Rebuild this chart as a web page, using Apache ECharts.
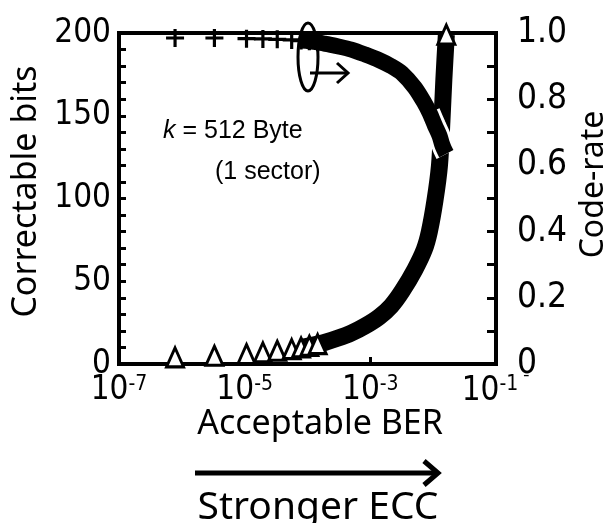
<!DOCTYPE html>
<html>
<head>
<meta charset="utf-8">
<script src="https://cdn.jsdelivr.net/npm/echarts@6/dist/echarts.min.js"></script>
<style>
  html, body { margin: 0; padding: 0; background: #fff; }
  #chart { width: 607px; height: 523px; }
</style>
</head>
<body>
<div id="chart"></div>
<script>
// acceptable BER (x, log axis)
const ber = [7.8e-7, 3.3e-6, 1.07e-5, 1.95e-5, 3.3e-5, 5.6e-5, 7.9e-5, 1.07e-4, 1.45e-4, 1.86e-4,
  3.0e-4, 5.0e-4, 8.3e-4, 1.38e-3, 2.14e-3, 3.2e-3, 5.1e-3, 7.2e-3, 8.7e-3, 1.07e-2,
  1.26e-2, 1.38e-2, 1.48e-2, 1.62e-2];
// triangles, left axis
const correctableBits = [4, 5, 6, 7, 8, 9, 10, 11, 12, 13,
  15.5, 18.7, 23, 28.4, 35, 44, 57, 69, 80, 99,
  120, 147, 172, 199];
// crosses, right axis
const codeRate = [0.985, 0.985, 0.983, 0.982, 0.981, 0.979, 0.977, 0.975, 0.972, 0.968,
  0.960, 0.950, 0.935, 0.918, 0.900, 0.878, 0.835, 0.790, 0.760, 0.720,
  0.690, 0.665, 0.650, 0.635];

const xTickValues = [1e-7, 1e-5, 1e-3, 1e-1];
const leftTickValues = [0, 50, 100, 150, 200];
const rightTickValues = [0, 0.2, 0.4, 0.6, 0.8, 1.0];

const FONT = '"DejaVu Sans Condensed", "Noto Sans", sans-serif';
const NAME_FONT = '"Noto Sans", sans-serif';
const ARIAL = '"Liberation Sans", Arial, sans-serif';
const SPARSE = 9; // single markers up to here
const BAND = 6;   // markers pile up into a thick band from here on

function pairs(ys, from, to) {
  return ber.slice(from, to).map((b, i) => [b, ys[from + i]]);
}
const last = ber.length - 1;
const cross = 'path://M7,0H10V7H17V10H10V17H7V10H0V7H7Z';

const chart = echarts.init(document.getElementById('chart'));
chart.setOption({
  animation: false,
  backgroundColor: '#fff',
  grid: {
    left: 119, right: 111, top: 33, bottom: 159,
    outerBoundsMode: 'none', containLabel: false,
    show: true, borderColor: '#000', borderWidth: 4
  },
  xAxis: {
    type: 'log', logBase: 10, min: 1e-7, max: 1e-1,
    name: 'Acceptable BER', nameLocation: 'middle', nameGap: 43, nameMoveOverlap: false,
    nameTextStyle: { fontFamily: NAME_FONT, fontSize: 34, color: '#000', padding: [0, 0, 0, 25] },
    axisLine: { show: false },
    axisTick: { inside: true, length: 7, lineStyle: { color: '#000', width: 3 }, customValues: xTickValues },
    splitLine: { show: false },
    minorTick: { show: false },
    axisLabel: {
      customValues: xTickValues, margin: 10, color: '#000',
      formatter: v => {
        const e = Math.round(Math.log10(v));
        return e === -1 ? '{b|10}{e|' + e + '}{m|¯}' : '{b|10}{e|' + e + '}';
      },
      rich: {
        b: { fontFamily: FONT, fontSize: 33, color: '#000' },
        e: { fontFamily: FONT, fontSize: 21, color: '#000', verticalAlign: 'top', padding: [0, 0, 12, 0] },
        m: { fontFamily: FONT, fontSize: 18, color: '#000', verticalAlign: 'top', padding: [0, 0, 16, 4] }
      }
    }
  },
  yAxis: [
    {
      type: 'value', min: 0, max: 200, interval: 10, position: 'left',
      name: 'Correctable bits', nameLocation: 'middle', nameGap: 68, nameRotate: 90,
      nameTextStyle: { fontFamily: NAME_FONT, fontSize: 34, color: '#000', padding: [0, 0, 0, 14] },
      axisLine: { show: false },
      axisTick: { inside: true, length: 7, lineStyle: { color: '#000', width: 3 } },
      splitLine: { show: false },
      axisLabel: {
        customValues: leftTickValues, margin: 8, fontFamily: FONT, fontSize: 33, color: '#000',
        padding: [0, 0, 6, 0]
      }
    },
    {
      type: 'value', min: 0, max: 1, interval: 0.1, position: 'right',
      name: 'Code-rate', nameLocation: 'middle', nameGap: 70, nameRotate: 90,
      nameTextStyle: { fontFamily: NAME_FONT, fontSize: 32, color: '#000', padding: [0, 0, 0, 28] },
      axisLine: { show: false },
      axisTick: { inside: true, length: 9, lineStyle: { color: '#000', width: 3 } },
      splitLine: { show: false },
      axisLabel: {
        customValues: rightTickValues, margin: 21, fontFamily: FONT, fontSize: 35, color: '#000',
        padding: [0, 0, 6, 0],
        formatter: v => (v === 0 ? '0' : v.toFixed(1))
      }
    }
  ],
  series: [
    {
      name: 'Correctable bits band', type: 'line', yAxisIndex: 0,
      data: pairs(correctableBits, BAND), symbol: 'none', smooth: 0.3, clip: false, z: 2,
      lineStyle: { color: '#000', width: 17 }
    },
    {
      name: 'Correctable bits', type: 'scatter', yAxisIndex: 0,
      data: pairs(correctableBits, 0, SPARSE).concat(pairs(correctableBits, last)),
      symbol: 'triangle', symbolSize: [17, 19], clip: false, z: 3,
      itemStyle: { color: '#fff', borderColor: '#000', borderWidth: 3, opacity: 1 }
    },
    {
      name: 'Code-rate edge', type: 'line', yAxisIndex: 1,
      data: pairs(codeRate, 18), symbol: 'none', smooth: 0.3, clip: false, z: 4,
      lineStyle: { color: '#fff', width: 22 }
    },
    {
      name: 'Code-rate band', type: 'line', yAxisIndex: 1,
      data: pairs(codeRate, BAND), symbol: 'none', smooth: 0.3, clip: false, z: 5,
      lineStyle: { color: '#000', width: 16 }
    },
    {
      name: 'Code-rate', type: 'scatter', yAxisIndex: 1,
      data: pairs(codeRate, 0, SPARSE),
      symbol: cross, symbolSize: 18, clip: false, z: 6,
      itemStyle: { color: '#000', opacity: 1 }
    }
  ],
  graphic: [
    // ellipse marking the code-rate curve, arrow toward right axis
    { type: 'ellipse', z: 100, shape: { cx: 308, cy: 57, rx: 10, ry: 34 },
      style: { fill: null, stroke: '#000', lineWidth: 3 } },
    { type: 'polyline', z: 100, shape: { points: [[310, 73], [347, 73]] },
      style: { stroke: '#000', lineWidth: 3 } },
    { type: 'polyline', z: 100, shape: { points: [[337, 63], [348, 73], [337, 83]] },
      style: { fill: null, stroke: '#000', lineWidth: 3 } },
    { type: 'text', z: 100, style: {
        text: '{i|k} = 512 Byte', x: 163, y: 131, verticalAlign: 'middle',
        fontFamily: ARIAL, fontSize: 25, fill: '#000',
        rich: { i: { fontFamily: ARIAL, fontSize: 25, fontStyle: 'italic', fill: '#000' } }
      } },
    { type: 'text', z: 100, style: {
        text: '(1 sector)', x: 215, y: 172, verticalAlign: 'middle',
        fontFamily: ARIAL, fontSize: 25, fill: '#000'
      } },
    // bottom arrow and caption
    { type: 'polyline', z: 100, shape: { points: [[195, 473], [437, 473]] },
      style: { stroke: '#000', lineWidth: 5 } },
    { type: 'polyline', z: 100, shape: { points: [[424, 461], [438, 473], [424, 485]] },
      style: { fill: null, stroke: '#000', lineWidth: 5 } },
    { type: 'text', z: 100, style: {
        text: 'Stronger ECC', x: 318, y: 508, align: 'center', verticalAlign: 'middle',
        fontFamily: NAME_FONT, fontSize: 39, fill: '#000'
      } }
  ]
});
</script>
</body>
</html>
